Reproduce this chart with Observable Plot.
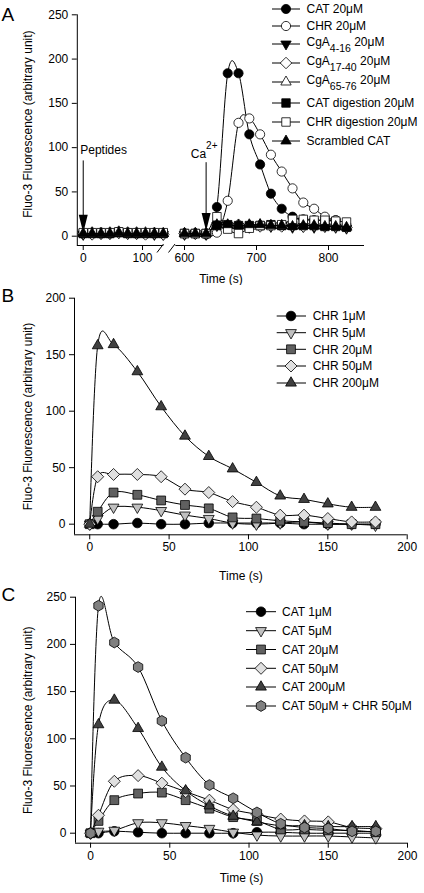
<!DOCTYPE html>
<html>
<head>
<meta charset="utf-8">
<script src="https://cdn.jsdelivr.net/npm/d3@7"></script>
<script src="https://cdn.jsdelivr.net/npm/@observablehq/plot@0.6"></script>
<style>
  html, body { margin: 0; padding: 0; background: #fff; }
  #chart svg { display: block; }
</style>
</head>
<body>
<div id="chart"></div>
<script>
const FONT = "'Liberation Sans', Arial, Helvetica, sans-serif";

// ---------------- Panel A data ----------------
const timesA_left  = [0, 15, 30, 45, 60, 75, 90, 105, 120, 135];
const timesA_right = [600, 615, 630, 645, 660, 675, 690, 705, 720, 735, 750, 765, 780, 795, 810, 825];
const seriesA = ["CAT 20μM", "CHR 20μM", "CgA4-16 20μM", "CgA17-40 20μM", "CgA65-76 20μM",
                 "CAT digestion 20μM", "CHR digestion 20μM", "Scrambled CAT"];
const catA_left     = [3, 3, 4, 3, 5, 4, 3, 3, 3, 3];
const catA_right    = [3, 3, 3, 33, 184, 184, 115, 81, 48, 31, 22, 19, 18, 18, 18];
const chrA_left     = [3, 4, 3, 4, 5, 4, 4, 3, 4, 3];
const chrA_right    = [3, 3, 2, 4, 40, 128, 133, 115, 92, 73, 54, 38, 31, 22, 18];
const cga416A_left  = [2, 3, 3, 3, 4, 3, 3, 3, 2, 2];
const cga416A_right = [2, 3, 2, 12, 12, 11, 10, 12, 11, 12, 10, 11, 10, 11, 10, 9];
const cga1740A_left = [3, 2, 3, 3, 4, 3, 3, 2, 3, 2];
const cga1740A_right= [3, 3, 3, 13, 11, 13, 12, 11, 12, 11, 12, 11, 12, 11, 11, 10];
const cga6576A_left = [4, 4, 3, 4, 5, 4, 4, 4, 3, 3];
const cga6576A_right= [3, 3, 3, 14, 12, 12, 11, 13, 12, 12, 12, 12, 12, 12, 11, 11];
const catDigA_left  = [3, 3, 3, 3, 4, 3, 3, 3, 3, 3];
const catDigA_right = [3, 3, 3, 12, 13, 12, 12, 12, 13, 12, 12, 12, 12, 11, 11, 10];
const chrDigA_left  = [4, 4, 4, 4, 5, 4, 4, 4, 4, 4];
const chrDigA_right = [3, 3, 3, 22, 8, 3, 9, 12, 12, 13, 19, 19, 18, 18, 17, 16];
const scrA_left     = [3, 3, 3, 3, 4, 3, 3, 3, 3, 3];
const scrA_right    = [3, 3, 3, 13, 13, 12, 13, 13, 12, 12, 11, 12, 12, 11, 11, 10];
const ticksA_x = [0, 100, 600, 700, 800];
const ticksA_y = [0, 50, 100, 150, 200, 250];
const arrowsA = [
  {t: 0,   top: 85, tip: 4,   label: "Peptides"},
  {t: 630, top: 83, tip: 6,   label: "Ca"}
];

// ---------------- Panel B data ----------------
const timesB = [0, 5, 15, 30, 45, 60, 75, 90, 105, 120, 135, 150, 165, 180];
const seriesB = ["CHR 1μM", "CHR 5μM", "CHR 20μM", "CHR 50μM", "CHR 200μM"];
const chr1B   = [0, 0, 0, 1, 0, 0, 1, 1, 1, 1, 0, 0, 0, 0];
const chr5B   = [0, 5, 15, 15, 12, 8, 5, 1, 0, 1, 2, 0, 0, -1];
const chr20B  = [0, 11, 28, 26, 21, 17, 14, 6, 5, 3, 2, 1, 0, 0];
const chr50B  = [0, 42, 44, 44, 42, 31, 28, 20, 15, 8, 8, 5, 2, 2];
const chr200B = [0, 158, 159, 135, 104, 78, 60, 49, 37, 25, 22, 18, 15, 15];
const ticksB_x = [0, 50, 100, 150, 200];
const ticksB_y = [0, 50, 100, 150, 200];

// ---------------- Panel C data ----------------
const timesC = [0, 5, 15, 30, 45, 60, 75, 90, 105, 120, 135, 150, 165, 180];
const seriesC = ["CAT 1μM", "CAT 5μM", "CAT 20μM", "CAT 50μM", "CAT 200μM", "CAT 50μM + CHR 50μM"];
const cat1C   = [0, 0, 2, 1, 0, 0, 0, 0, 1, 1, 0, 0, 0, 0];
const cat5C   = [0, 2, 3, 11, 11, 8, 5, 1, -2, -3, -3, -3, -4, -5];
const cat20C  = [0, 13, 35, 42, 43, 35, 26, 17, 13, 4, 4, 3, 3, 1];
const cat50C  = [0, 19, 55, 61, 53, 44, 35, 25, 20, 15, 13, 12, 6, 5];
const cat200C = [0, 115, 141, 111, 70, 45, 29, 18, 12, 8, 8, 7, 7, 7];
const catChrC = [0, 241, 202, 176, 119, 80, 51, 37, 22, 10, 6, 5, 2, 2];
const ticksC_x = [0, 50, 100, 150, 200];
const ticksC_y = [0, 50, 100, 150, 200, 250];

// ---------------- symbols & styles ----------------
function makeSym(fn) { return { draw(ctx, size) { fn(ctx, Math.sqrt(size / Math.PI)); } }; }
const SYM = {
  circle:  makeSym((c, r) => { c.moveTo(r, 0); c.arc(0, 0, r, 0, 2 * Math.PI); c.closePath(); }),
  square:  makeSym((c, r) => { const s = 0.92 * r; c.moveTo(-s, -s); c.lineTo(s, -s); c.lineTo(s, s); c.lineTo(-s, s); c.closePath(); }),
  diamond: makeSym((c, r) => { const d = 1.25 * r; c.moveTo(0, -d); c.lineTo(d, 0); c.lineTo(0, d); c.lineTo(-d, 0); c.closePath(); }),
  triUp:   makeSym((c, r) => { const R = 1.3 * r; c.moveTo(0, -R); c.lineTo(0.866 * R, 0.5 * R); c.lineTo(-0.866 * R, 0.5 * R); c.closePath(); }),
  triDown: makeSym((c, r) => { const R = 1.3 * r; c.moveTo(0, R); c.lineTo(0.866 * R, -0.5 * R); c.lineTo(-0.866 * R, -0.5 * R); c.closePath(); }),
  hexagon: makeSym((c, r) => { const R = 1.12 * r; for (let i = 0; i < 6; i++) { const a = -Math.PI / 2 + i * Math.PI / 3; const px = R * Math.cos(a), py = R * Math.sin(a); if (i) c.lineTo(px, py); else c.moveTo(px, py); } c.closePath(); }),
  head:    makeSym((c, r) => { c.moveTo(0, 0); c.lineTo(-4.5, -18); c.lineTo(4.5, -18); c.closePath(); })
};
const styleA = [
  {sym: "circle", fill: "black"}, {sym: "circle", fill: "white"},
  {sym: "triDown", fill: "black"}, {sym: "diamond", fill: "white"},
  {sym: "triUp", fill: "white"}, {sym: "square", fill: "black"},
  {sym: "square", fill: "white"}, {sym: "triUp", fill: "black"}
];
const labelPartsA = [
  [["CAT 20μM"]], [["CHR 20μM"]],
  [["CgA"], ["4-16", "sub"], [" 20μM"]],
  [["CgA"], ["17-40", "sub"], [" 20μM"]],
  [["CgA"], ["65-76", "sub"], [" 20μM"]],
  [["CAT digestion 20μM"]], [["CHR digestion 20μM"]], [["Scrambled CAT"]]
];
const styleB = [
  {sym: "circle", fill: "#000000"}, {sym: "triDown", fill: "#c0c0c0"},
  {sym: "square", fill: "#606060"}, {sym: "diamond", fill: "#e0e0e0"},
  {sym: "triUp", fill: "#404040"}
];
const styleC = [...styleB, {sym: "hexagon", fill: "#808080"}];
const CURVE = "cardinal";

// ---------------- helpers ----------------
const chart = document.getElementById("chart");

function addLegend(svg, items, cfg) {
  const g = d3.select(svg).append("g").attr("font-family", FONT).attr("font-size", 12)
    .attr("fill", "black").attr("text-anchor", "start");
  items.forEach((it, i) => {
    const y = cfg.ys[i];
    g.append("line").attr("x1", cfg.x0).attr("x2", cfg.x1).attr("y1", y).attr("y2", y)
      .attr("stroke", "black").attr("stroke-width", 1);
    g.append("path").attr("d", d3.symbol(SYM[it.sym], Math.PI * cfg.r * cfg.r)())
      .attr("transform", `translate(${cfg.mx},${y})`)
      .attr("fill", it.fill).attr("stroke", "black").attr("stroke-width", 0.8);
    const hasSub = it.parts.some(p => p[1] === "sub");
    const t = g.append("text").attr("x", cfg.tx).attr("y", hasSub ? y - 2 : y).attr("dy", "0.35em")
      .attr("text-anchor", "start");
    let shifted = false;
    it.parts.forEach(p => {
      const ts = t.append("tspan").text(p[0]);
      if (p[1] === "sub") { ts.attr("font-size", 10.5).attr("dy", 6); shifted = true; }
      else if (shifted) { ts.attr("dy", -6); shifted = false; }
    });
  });
}

function addLetter(svg, letter, y) {
  d3.select(svg).append("text").attr("x", 1.5).attr("y", y).attr("text-anchor", "start")
    .attr("font-family", FONT).attr("font-size", 19).attr("fill", "black").text(letter);
}

// ---------------- Panel A ----------------
(function () {
  const kLeft = 0.593, kRight = 0.72, off600 = 101.3;
  const brk = t => t < 400 ? t * kLeft : off600 + (t - 600) * kRight;
  const tickLabel = new Map(ticksA_x.map(t => [brk(t), String(t)]));
  const leftA  = [catA_left, chrA_left, cga416A_left, cga1740A_left, cga6576A_left, catDigA_left, chrDigA_left, scrA_left];
  const rightA = [catA_right, chrA_right, cga416A_right, cga1740A_right, cga6576A_right, catDigA_right, chrDigA_right, scrA_right];
  const rows = [];
  seriesA.forEach((name, i) => {
    leftA[i].forEach((v, j) => rows.push({s: name, key: name + "|L", t: timesA_left[j], v}));
    rightA[i].forEach((v, j) => rows.push({s: name, key: name + "|R", t: timesA_right[j], v}));
  });
  const yBottom = -10.5;
  const marks = [
    Plot.ruleX([brk(-10)], {stroke: "black", strokeWidth: 1}),
    Plot.ruleY([{a: brk(-10), b: brk(136)}, {a: brk(588), b: brk(850)}], {y: yBottom, x1: "a", x2: "b", stroke: "black", strokeWidth: 1}),
    Plot.link([{x1: 73.8, y1: -18.4, x2: 80.3, y2: -8.8}, {x1: 85.3, y1: -18.4, x2: 91.8, y2: -8.8}],
      {x1: "x1", y1: "y1", x2: "x2", y2: "y2", stroke: "black", strokeWidth: 1}),
    Plot.axisX({ticks: ticksA_x.map(brk), tickFormat: v => tickLabel.get(v), tickSize: 5, tickPadding: 3, label: null}),
    Plot.axisY({ticks: ticksA_y, tickSize: 5, tickPadding: 4, label: null}),
    Plot.text(["Time (s)"], {text: d => d, frameAnchor: "bottom", dy: 34, textAnchor: "middle", lineAnchor: "middle"}),
    Plot.text(["Fluo-3 Fluorescence (arbitrary unit)"], {text: d => d, frameAnchor: "left", dx: -48.8, dy: -6, rotate: -90, textAnchor: "middle", lineAnchor: "middle"}),
    // arrows
    Plot.ruleX(arrowsA, {x: d => brk(d.t), y1: "top", y2: d => d.tip + 8, stroke: "black", strokeWidth: 1}),
    Plot.dot(arrowsA, {x: d => brk(d.t), y: "tip", symbol: SYM.head, r: 4, fill: "black", stroke: "none"}),
    Plot.text([arrowsA[0]], {x: d => brk(d.t), y: 96.6, text: "label", textAnchor: "start", dx: -3, lineAnchor: "middle"}),
    Plot.text([arrowsA[1]], {x: d => brk(d.t), y: 93, text: "label", textAnchor: "end", dx: 0, lineAnchor: "middle"}),
    Plot.text([arrowsA[1]], {x: d => brk(d.t), y: 102, text: () => "2+", textAnchor: "start", dx: 0, fontSize: 10, lineAnchor: "middle"})
  ];
  seriesA.forEach((name, i) => {
    const d = rows.filter(r => r.s === name);
    marks.push(Plot.line(d, {x: r => brk(r.t), y: "v", z: "key", curve: CURVE, stroke: "black", strokeWidth: 1}));
    marks.push(Plot.dot(d, {x: r => brk(r.t), y: "v", symbol: SYM[styleA[i].sym], r: 4.6, fill: styleA[i].fill, stroke: "black", strokeWidth: 0.8}));
  });
  const svg = Plot.plot({
    width: 424, height: 285,
    marginLeft: 76.8, marginRight: 60, marginTop: 14.3, marginBottom: 40,
    x: {domain: [brk(-10), brk(850)]},
    y: {domain: [yBottom, 250]},
    style: {fontFamily: FONT, fontSize: "12px", color: "black", background: "white"},
    marks
  });
  addLegend(svg, seriesA.map((s, i) => ({...styleA[i], parts: labelPartsA[i]})),
    {x0: 272, x1: 300, mx: 286, tx: 306.5, r: 4.6, ys: [9, 26, 44, 63, 82, 103, 122, 141]});
  addLetter(svg, "A", 21);
  chart.appendChild(svg);
})();

// ---------------- Panels B & C ----------------
function timePanel(cfg) {
  const rows = [];
  cfg.names.forEach((name, i) => cfg.values[i].forEach((v, j) => rows.push({s: name, t: cfg.times[j], v})));
  const marks = [
    Plot.ruleX([cfg.xDomain[0]], {stroke: "black", strokeWidth: 1}),
    Plot.ruleY([cfg.yDomain[0]], {stroke: "black", strokeWidth: 1}),
    Plot.axisX({ticks: cfg.xTicks, tickSize: 5, tickPadding: 3, label: null}),
    Plot.axisY({ticks: cfg.yTicks, tickSize: 5, tickPadding: 4, label: null}),
    Plot.text(["Time (s)"], {text: d => d, frameAnchor: "bottom", dy: cfg.xLabelDy, textAnchor: "middle", lineAnchor: "middle"}),
    Plot.text(["Fluo-3 Fluorescence (arbitrary unit)"], {text: d => d, frameAnchor: "left", dx: 28 - cfg.margin[3], rotate: -90, textAnchor: "middle", lineAnchor: "middle"})
  ];
  cfg.names.forEach((name, i) => {
    const d = rows.filter(r => r.s === name);
    marks.push(Plot.line(d, {x: "t", y: "v", curve: CURVE, stroke: "black", strokeWidth: 1}));
    marks.push(Plot.dot(d, {x: "t", y: "v", symbol: SYM[cfg.styles[i].sym], r: 4.8, fill: cfg.styles[i].fill, stroke: "black", strokeWidth: 0.8}));
  });
  const svg = Plot.plot({
    width: 424, height: cfg.height,
    marginTop: cfg.margin[0], marginRight: cfg.margin[1], marginBottom: cfg.margin[2], marginLeft: cfg.margin[3],
    x: {domain: cfg.xDomain},
    y: {domain: cfg.yDomain},
    style: {fontFamily: FONT, fontSize: "12px", color: "black", background: "white"},
    marks
  });
  addLegend(svg, cfg.names.map((s, i) => ({...cfg.styles[i], parts: [[s]]})), cfg.legend);
  addLetter(svg, cfg.letter, cfg.letterY);
  chart.appendChild(svg);
}

timePanel({
  letter: "B", letterY: 16.5,
  times: timesB, names: seriesB, values: [chr1B, chr5B, chr20B, chr50B, chr200B], styles: styleB,
  xDomain: [-9.6, 200], yDomain: [-9.4, 200], xTicks: ticksB_x, yTicks: ticksB_y,
  height: 300, margin: [12.7, 17.3, 50.7, 74], xLabelDy: 41,
  legend: {x0: 276.7, x1: 306, mx: 291, tx: 312.7, r: 4.8, ys: [31, 47.7, 64.3, 81, 98]}
});

timePanel({
  letter: "C", letterY: 16,
  times: timesC, names: seriesC, values: [cat1C, cat5C, cat20C, cat50C, cat200C, catChrC], styles: styleC,
  xDomain: [-9.5, 200], yDomain: [-10.6, 250], xTicks: ticksC_x, yTicks: ticksC_y,
  height: 308, margin: [11.7, 17, 50.3, 75], xLabelDy: 34.5,
  legend: {x0: 246, x1: 276, mx: 261, tx: 282, r: 4.8, ys: [26.7, 45.7, 64.5, 83.3, 102, 121]}
});
</script>
</body>
</html>
